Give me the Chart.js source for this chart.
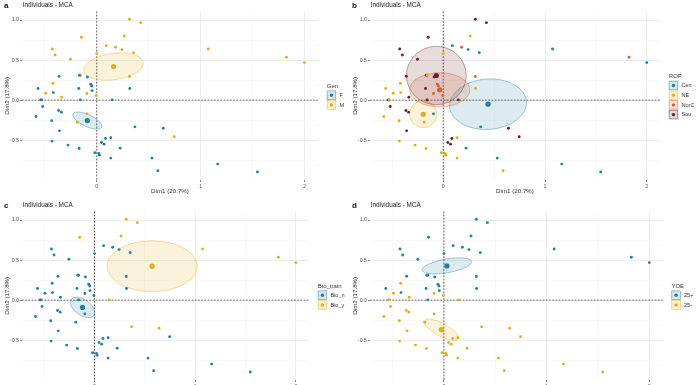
<!DOCTYPE html>
<html>
<head>
<meta charset="utf-8">
<script src="https://cdn.jsdelivr.net/npm/chart.js@4.4.0/dist/chart.umd.min.js"></script>
<style>
  body { margin: 0; background: #fff; width: 696px; height: 385px; overflow: hidden; position: relative; }
  canvas { position: absolute; }
  #panelA { left: 0; top: 0; }
  #panelB { left: 348px; top: 0; }
  #panelC { left: 0; top: 200px; }
  #panelD { left: 348px; top: 200px; }
</style>
</head>
<body>
<canvas id="panelA" width="348" height="200"></canvas>
<canvas id="panelB" width="348" height="200"></canvas>
<canvas id="panelC" width="348" height="200"></canvas>
<canvas id="panelD" width="348" height="200"></canvas>
<script>
// individual coordinates (same in all four panels)
const dim1 = [0.315, 0.424, -0.148, 0.264, -0.428, -0.402, 0.09, 0.18, 0.244, 0.354,
  0.0, 1.074, 1.826, 2.0, -0.254, -0.158, 0.315, -0.421, -0.492, -0.338,
  -0.096, -0.006, -0.186, 0.746, -0.096, -0.363, -0.566, -0.418, -0.174, -0.167,
  -0.09, -0.058, -0.048, -0.045, 0.318, -0.54, -0.53, -0.158, 0.148, -0.521,
  -0.585, -0.367, -0.341, -0.434, -0.36, -0.431, -0.277, -0.17, 0.367, 0.64,
  0.084, 0.135, 0.045, 0.071, 0.225, -0.019, 0.019, 0.026, 0.135, 0.531,
  0.588, 1.164, 1.547];
const dim2 = [1.01, 0.967, 0.784, 0.80, 0.639, 0.564, 0.68, 0.66, 0.631, 0.593,
  0.581, 0.639, 0.535, 0.469, 0.51, 0.311, 0.295, 0.212, 0.087, 0.037,
  0.083, 0.058, -0.274, -0.456, -0.17, 0.299, 0.145, 0.095, 0.145, 0.311,
  0.29, 0.199, 0.178, 0.12, 0.145, 0.004, 0.004, 0.004, 0.004, -0.079,
  -0.203, -0.129, -0.149, -0.257, -0.382, -0.51, -0.56, -0.602, -0.332, -0.349,
  -0.477, -0.469, -0.527, -0.548, -0.598, -0.656, -0.664, -0.685, -0.722, -0.722,
  -0.88, -0.797, -0.896];

// group of each individual, per panel
const gender = ['M','M','M','M','M','M','M','M','M','M',
  'M','M','M','M','M','M','M','M','M','M',
  'M','M','M','M','M','F','F','F','F','F',
  'F','F','F','F','F','F','F','F','F','F',
  'F','F','F','F','F','F','F','F','F','F',
  'F','F','F','F','F','F','F','F','F','F',
  'F','F','F'];
const region = ['Sou','Sou','Sou','NE','Sou','Sou','Cen','NorC','Cen','Cen',
  'NE','Cen','NorC','Cen','Sou','NE','NorC','NE','NE','Sou',
  'NorC','NorC','NE','Sou','Cen','Sou','NE','NE','Sou','Sou',
  'Sou','NorC','NorC','NorC','NE','Sou','NE','Sou','Sou','Sou',
  'NE','Sou','Sou','NE','Sou','NE','NE','NE','Cen','Sou',
  'Sou','NE','Sou','Sou','Cen','NE','NE','NE','NE','Cen',
  'NE','Cen','Cen'];
const bioTrain = ['Bio_y','Bio_y','Bio_y','Bio_y','Bio_n','Bio_n','Bio_n','Bio_n','Bio_n','Bio_n',
  'Bio_n','Bio_y','Bio_y','Bio_y','Bio_n','Bio_n','Bio_n','Bio_n','Bio_n','Bio_n',
  'Bio_n','Bio_n','Bio_n','Bio_n','Bio_n','Bio_n','Bio_n','Bio_n','Bio_n','Bio_n',
  'Bio_n','Bio_n','Bio_n','Bio_n','Bio_n','Bio_n','Bio_n','Bio_n','Bio_y','Bio_n',
  'Bio_n','Bio_n','Bio_n','Bio_n','Bio_n','Bio_n','Bio_n','Bio_n','Bio_y','Bio_y',
  'Bio_n','Bio_n','Bio_n','Bio_n','Bio_n','Bio_n','Bio_n','Bio_n','Bio_n','Bio_n',
  'Bio_n','Bio_n','Bio_n'];
const yoe = ['25+','25+','25+','25+','25+','25+','25+','25+','25+','25+',
  '25+','25+','25+','25+','25+','25+','25+','25-','25-','25-',
  '25-','25-','25-','25-','25-','25+','25+','25+','25+','25+',
  '25+','25+','25+','25+','25+','25-','25-','25+','25-','25-',
  '25-','25-','25-','25-','25-','25-','25-','25-','25-','25-',
  '25-','25-','25-','25-','25-','25-','25-','25-','25-','25-',
  '25-','25-','25-'];

// group levels, group means and confidence ellipses (semi axes in data units, tilt in degrees)
const genderLevels = ['F', 'M'];
const genderMeanX = [-0.091, 0.161];
const genderMeanY = [-0.254, 0.419];
const genderEllA = [0.154, 0.289];
const genderEllB = [0.075, 0.165];
const genderEllTilt = [25, -8];

const regionLevels = ['Cen', 'NE', 'NorC', 'Sou'];
const regionMeanX = [0.44, -0.197, -0.035, -0.068];
const regionMeanY = [-0.05, -0.175, 0.13, 0.308];
const regionEllA = [0.379, 0.135, 0.296, 0.294];
const regionEllB = [0.315, 0.168, 0.212, 0.364];
const regionEllTilt = [-4, 0, 0, 0];

const bioLevels = ['Bio_n', 'Bio_y'];
const bioMeanX = [-0.119, 0.572];
const bioMeanY = [-0.09, 0.424];
const bioEllA = [0.139, 0.448];
const bioEllB = [0.099, 0.317];
const bioEllTilt = [35, 0];

const yoeLevels = ['25+', '25-'];
const yoeMeanX = [0.029, -0.026];
const yoeMeanY = [0.428, -0.367];
const yoeEllA = [0.244, 0.19];
const yoeEllB = [0.086, 0.08];
const yoeEllTilt = [-10, 28];

// axes
const xLimits = [-0.72, 2.13];
const yLimits = [-0.995, 1.106];
const xGrid = [-0.5, 0, 0.5, 1, 1.5, 2];
const yGrid = [-0.75, -0.5, -0.25, 0, 0.25, 0.5, 0.75, 1];

const palette = [[34, 128, 160], [222, 176, 24], [214, 96, 48], [108, 34, 34]];
const rgba = (c, a) => `rgba(${c[0]},${c[1]},${c[2]},${a})`;
const FONT = '"Liberation Sans", Arial, sans-serif';

function makePanel(id, p) {
  const datasets = p.levels.map((lev, i) => ({
    label: lev,
    data: dim1.map((x, k) => ({ x, y: dim2[k] })).filter((pt, k) => p.member[k] === lev),
    backgroundColor: rgba(palette[i], 1),
    pointRadius: 1.45,
    borderWidth: 0
  }));
  p.levels.forEach((lev, i) => {
    datasets.push({
      label: lev + ' mean',
      data: [{ x: p.meanX[i], y: p.meanY[i] }],
      backgroundColor: rgba(palette[i], 1),
      pointRadius: 2.6,
      borderWidth: 0
    });
  });

  const mcaPlugin = {
    id: 'mca',
    beforeDatasetsDraw(chart) {
      const { ctx, chartArea, scales } = chart;
      const xs = scales.x, ys = scales.y;
      ctx.save();
      // reference lines
      ctx.setLineDash([1.6, 1.6]);
      ctx.strokeStyle = '#3a3a3a';
      ctx.lineWidth = 0.8;
      const x0 = xs.getPixelForValue(0), y0 = ys.getPixelForValue(0);
      ctx.beginPath();
      ctx.moveTo(x0, chartArea.top); ctx.lineTo(x0, chartArea.bottom);
      ctx.moveTo(chartArea.left, y0); ctx.lineTo(chartArea.right, y0);
      ctx.stroke();
      ctx.setLineDash([]);
      // ellipses
      p.levels.forEach((lev, i) => {
        const cx = xs.getPixelForValue(p.meanX[i]);
        const cy = ys.getPixelForValue(p.meanY[i]);
        const ra = Math.abs(xs.getPixelForValue(p.meanX[i] + p.ellA[i]) - cx);
        const rb = Math.abs(ys.getPixelForValue(p.meanY[i] + p.ellB[i]) - cy);
        ctx.beginPath();
        ctx.ellipse(cx, cy, ra, rb, p.ellTilt[i] * Math.PI / 180, 0, Math.PI * 2);
        ctx.fillStyle = rgba(palette[i], 0.16);
        ctx.fill();
        ctx.strokeStyle = rgba(palette[i], 0.5);
        ctx.lineWidth = 0.8;
        ctx.stroke();
      });
      ctx.restore();
    },
    afterDraw(chart) {
      const { ctx, chartArea } = chart;
      ctx.save();
      // panel letter and title
      ctx.fillStyle = '#111';
      ctx.textBaseline = 'alphabetic';
      ctx.font = `bold 8px ${FONT}`;
      ctx.fillText(p.letter, 4, 7.5);
      ctx.font = `6.4px ${FONT}`;
      ctx.fillStyle = '#222';
      ctx.fillText('Individuals - MCA', 22.7, 7.3);
      // axis titles
      ctx.fillStyle = '#333';
      ctx.font = `6.2px ${FONT}`;
      ctx.textAlign = 'center';
      ctx.fillText('Dim1 (20.7%)', (chartArea.left + chartArea.right) / 2, 193);
      ctx.save();
      ctx.translate(8.5, (chartArea.top + chartArea.bottom) / 2);
      ctx.rotate(-Math.PI / 2);
      ctx.fillText('Dim2 (17.8%)', 0, 0);
      ctx.restore();
      // legend
      ctx.textAlign = 'left';
      const keyH = 9.7, titleH = 9;
      const lx = chartArea.right + 8.8;
      let ly = (chartArea.top + chartArea.bottom) / 2 - (titleH + p.levels.length * keyH) / 2;
      ctx.font = `6px ${FONT}`;
      ctx.fillStyle = '#333';
      ctx.fillText(p.legendTitle, lx, ly + 6.5);
      ly += titleH;
      p.levels.forEach((lev, i) => {
        const by = ly + i * keyH;
        ctx.fillStyle = '#fff';
        ctx.fillRect(lx, by, 9.3, 9.3);
        ctx.fillStyle = rgba(palette[i], 0.18);
        ctx.fillRect(lx, by, 9.3, 9.3);
        ctx.strokeStyle = rgba(palette[i], 0.6);
        ctx.lineWidth = 0.7;
        ctx.strokeRect(lx + 0.35, by + 0.35, 8.6, 8.6);
        ctx.beginPath();
        ctx.arc(lx + 4.65, by + 4.65, 1.7, 0, Math.PI * 2);
        ctx.fillStyle = rgba(palette[i], 1);
        ctx.fill();
        ctx.fillStyle = '#333';
        ctx.font = `5.6px ${FONT}`;
        ctx.textBaseline = 'middle';
        ctx.fillText(lev, lx + 12.6, by + 4.8);
        ctx.textBaseline = 'alphabetic';
      });
      ctx.restore();
    }
  };

  const isMajorX = v => Math.abs(v - Math.round(v)) < 1e-6;
  const isMajorY = v => Math.abs(v * 2 - Math.round(v * 2)) < 1e-6;

  return new Chart(document.getElementById(id).getContext('2d'), {
    type: 'scatter',
    data: { datasets },
    options: {
      responsive: false,
      animation: false,
      events: [],
      layout: { padding: { top: 11.5, right: p.rightPad, left: 0, bottom: 0 } },
      plugins: { legend: { display: false }, tooltip: { enabled: false } },
      scales: {
        x: {
          type: 'linear',
          min: xLimits[0], max: xLimits[1],
          afterBuildTicks: s => { s.ticks = xGrid.map(v => ({ value: v })); },
          afterFit: s => { s.height = 20; },
          border: { display: false },
          grid: {
            color: c => isMajorX(c.tick.value) ? '#e8e8e8' : '#f3f3f3',
            lineWidth: c => isMajorX(c.tick.value) ? 0.8 : 0.5,
            tickLength: 2,
            tickColor: c => isMajorX(c.tick.value) ? '#666' : 'rgba(0,0,0,0)'
          },
          ticks: {
            autoSkip: false, maxRotation: 0, padding: 1,
            color: '#555', font: { size: 5.3, family: FONT },
            callback: v => isMajorX(v) ? String(Math.round(v)) : ''
          }
        },
        y: {
          type: 'linear',
          min: yLimits[0], max: yLimits[1],
          afterBuildTicks: s => { s.ticks = yGrid.map(v => ({ value: v })); },
          afterFit: s => { s.width = 22; },
          border: { display: false },
          grid: {
            color: c => isMajorY(c.tick.value) ? '#e8e8e8' : '#f3f3f3',
            lineWidth: c => isMajorY(c.tick.value) ? 0.8 : 0.5,
            tickLength: 2,
            tickColor: c => isMajorY(c.tick.value) ? '#666' : 'rgba(0,0,0,0)'
          },
          ticks: {
            autoSkip: false, padding: 1,
            color: '#555', font: { size: 5.3, family: FONT },
            callback: v => isMajorY(v) ? v.toFixed(1) : ''
          }
        }
      }
    },
    plugins: [mcaPlugin]
  });
}

makePanel('panelA', { letter: 'a', legendTitle: 'Gen', levels: genderLevels, member: gender,
  meanX: genderMeanX, meanY: genderMeanY, ellA: genderEllA, ellB: genderEllB, ellTilt: genderEllTilt, rightPad: 30 });
makePanel('panelB', { letter: 'b', legendTitle: 'ROP', levels: regionLevels, member: region,
  meanX: regionMeanX, meanY: regionMeanY, ellA: regionEllA, ellB: regionEllB, ellTilt: regionEllTilt, rightPad: 36 });
makePanel('panelC', { letter: 'c', legendTitle: 'Bio_train', levels: bioLevels, member: bioTrain,
  meanX: bioMeanX, meanY: bioMeanY, ellA: bioEllA, ellB: bioEllB, ellTilt: bioEllTilt, rightPad: 39 });
makePanel('panelD', { letter: 'd', legendTitle: 'YOE', levels: yoeLevels, member: yoe,
  meanX: yoeMeanX, meanY: yoeMeanY, ellA: yoeEllA, ellB: yoeEllB, ellTilt: yoeEllTilt, rightPad: 33.4 });
</script>
</body>
</html>
